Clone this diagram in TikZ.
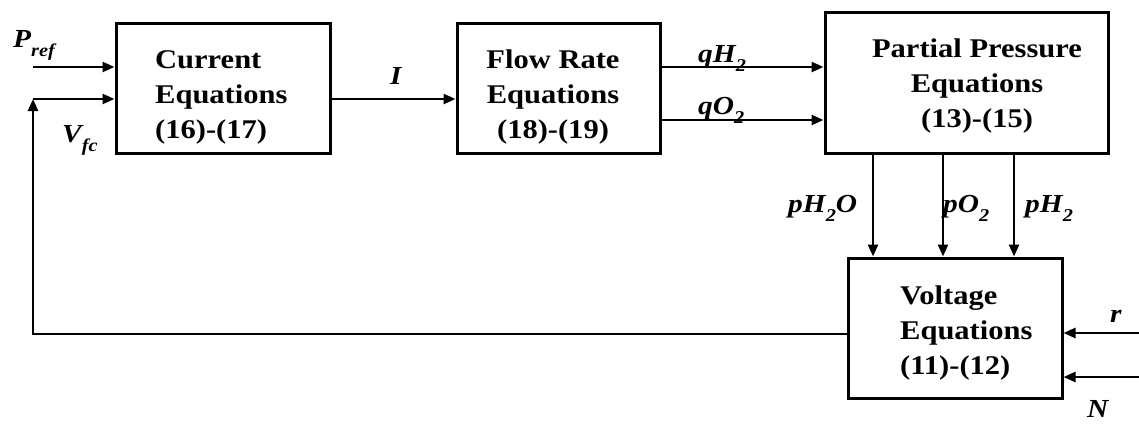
\documentclass[tikz,border=0pt]{standalone}
\usepackage{fontspec}
\setmainfont{Liberation Serif}[FakeStretch=1.13]
\usetikzlibrary{arrows.meta}
\newcommand\bt{\fontsize{27}{35}\selectfont\bfseries}
\newcommand\lbf{\fontsize{26}{30}\selectfont\bfseries\itshape}
\newcommand\sbx[1]{\raisebox{-0.35em}{\fontsize{18}{18}\selectfont #1}}
\begin{document}
\begin{tikzpicture}[x=1pt,y=-1pt,
  blk/.style={draw,line width=3pt,inner sep=0pt},
  txt/.style={inner sep=0pt,font=\bt},
  lab/.style={inner sep=0pt,font=\lbf,anchor=base west},
  arr/.style={line width=2.5pt,-{Triangle[length=12pt,width=10pt]}}]
\useasboundingbox (0,0) rectangle (1139,423);
\node[blk,minimum width=214pt,minimum height=130pt] (cur) at (223,88) {};
\node[blk,minimum width=203pt,minimum height=130pt] (flow) at (558.5,88) {};
\node[blk,minimum width=283pt,minimum height=141pt] (part) at (966.5,82.5) {};
\node[blk,minimum width=214pt,minimum height=140pt] (volt) at (955,328) {};
\node[txt,anchor=west,align=left] (curt) at (155,97) {Current\\Equations\\(16)-(17)};
\node[txt,align=center] (flowt) at (553,97) {Flow Rate\\Equations\\(18)-(19)};
\node[txt,align=center] (partt) at (977,86) {Partial Pressure\\Equations\\(13)-(15)};
\node[txt,anchor=west,align=left] (voltt) at (900,333) {Voltage\\Equations\\(11)-(12)};
% inputs
\coordinate (pin) at (33,67);
\coordinate (vin) at (33,99);
\coordinate (fb) at (33,334);
\draw[arr] (pin) -- (pin -| cur.west);
\draw[arr] (volt.west |- fb) -- (fb) -- (vin);
\draw[arr] (vin) -- (vin -| cur.west);
\coordinate (iy) at (0,99);
\draw[arr] (cur.east |- iy) -- (flow.west |- iy);
\coordinate (qh) at (0,67);
\coordinate (qo) at (0,120);
\draw[arr] (flow.east |- qh) -- (part.west |- qh);
\draw[arr] (flow.east |- qo) -- (part.west |- qo);
\coordinate (d1) at (873,0);
\coordinate (d2) at (943,0);
\coordinate (d3) at (1014,0);
\draw[arr] (part.south -| d1) -- (volt.north -| d1);
\draw[arr] (part.south -| d2) -- (volt.north -| d2);
\draw[arr] (part.south -| d3) -- (volt.north -| d3);
\coordinate (rin) at (1139,333);
\coordinate (nin) at (1139,377);
\draw[arr] (rin) -- (rin -| volt.east);
\draw[arr] (nin) -- (nin -| volt.east);
% labels
\node[lab] (lp) at (13,47) {P\sbx{ref}};
\node[lab] (lv) at (62,142) {V\sbx{fc}};
\node[lab] (li) at (390,84) {I};
\node[lab] (lqh) at (698,62) {qH\sbx{2}};
\node[lab] (lqo) at (698,114) {qO\sbx{2}};
\node[lab] (lph2o) at (788,212) {pH\sbx{2}O};
\node[lab] (lpo) at (943,212) {pO\sbx{2}};
\node[lab] (lph) at (1025,212) {pH\sbx{2}};
\node[lab] (lr) at (1110,322) {r};
\node[lab] (ln) at (1087,417) {N};
\end{tikzpicture}
\end{document}
